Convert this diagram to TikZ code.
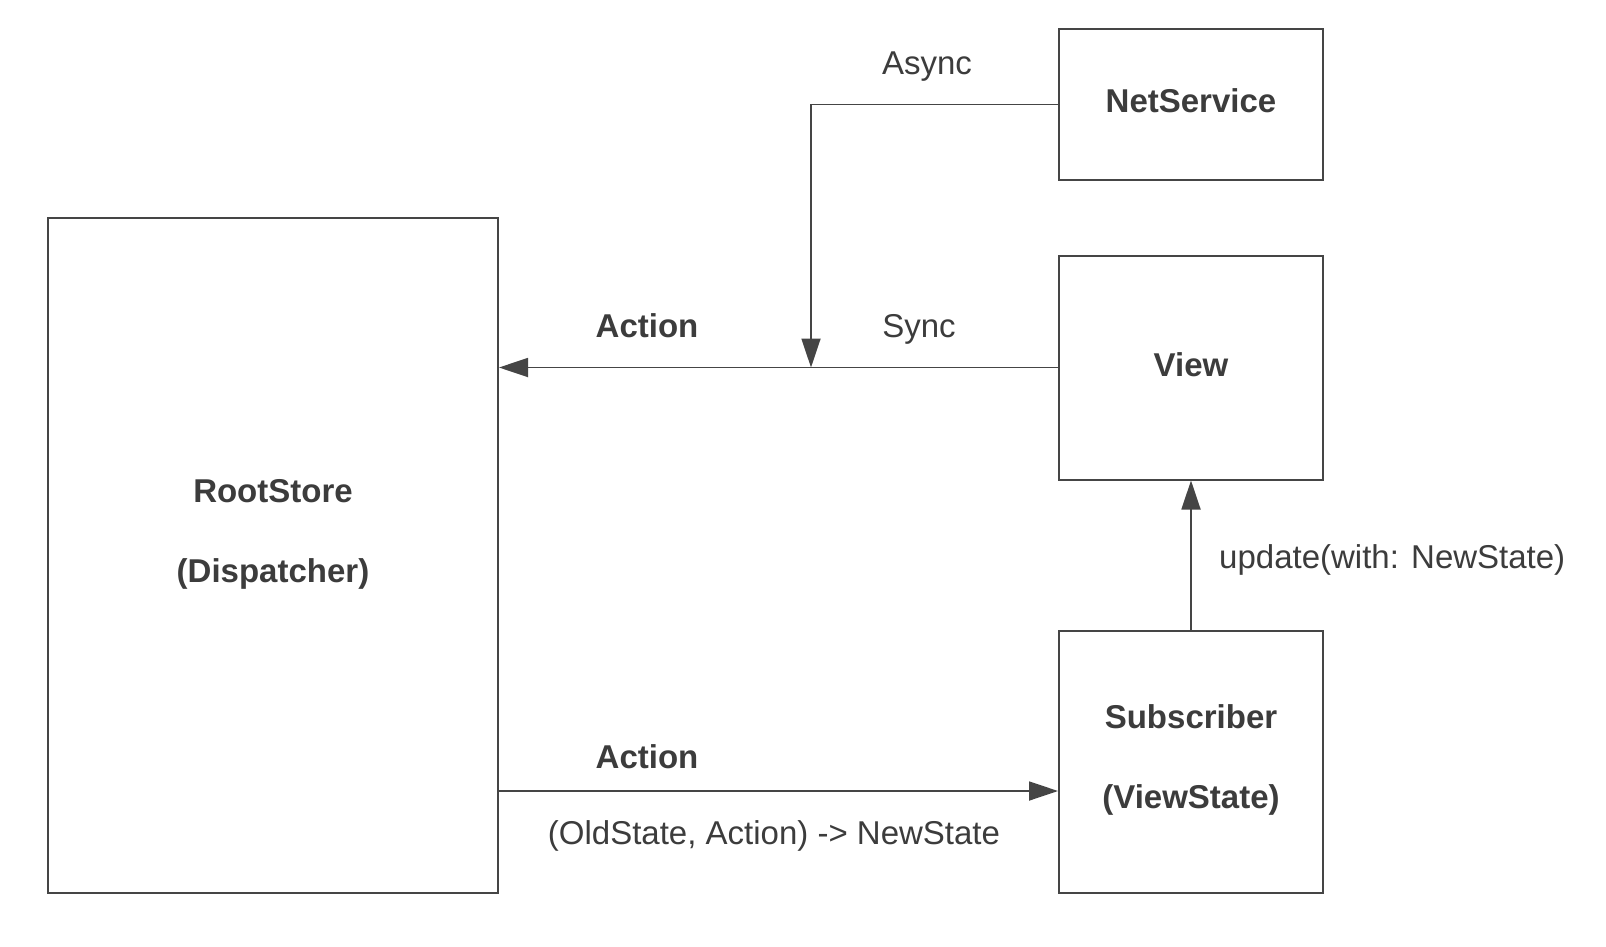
\documentclass[tikz,border=0pt]{standalone}
\usepackage{fontspec}
\setmainfont{Liberation Sans}
\usetikzlibrary{arrows.meta}
\definecolor{ink}{HTML}{454545}
\definecolor{txt}{HTML}{3C3C3C}
\begin{document}
\begin{tikzpicture}[x=1pt,y=-1pt,
  box/.style={draw=ink, line width=2pt, inner sep=0pt, align=center, text=txt,
              font=\fontsize{33}{80}\selectfont\bfseries},
  conn/.style={draw=ink, line width=1.8pt, -{Triangle[length=29pt,width=19pt]}},
  lbl/.style={inner sep=0pt, text=txt, font=\fontsize{33}{40}\selectfont},
  blbl/.style={lbl, font=\fontsize{33}{40}\selectfont\bfseries}]
\useasboundingbox (0,0) rectangle (1606,946);
\fill[white] (0,0) rectangle (1606,946);

\node[box, minimum width=450pt, minimum height=675pt] (root) at (273,555.5) {};
\node[box, draw=none, align=center] (roottext) at (273,534) {RootStore\\(Dispatcher)};
\node[box, minimum width=264pt, minimum height=151pt, text depth=8pt] (net) at (1191,104.5) {NetService};
\node[box, minimum width=264pt, minimum height=224pt, text depth=6pt] (view) at (1191,367.5) {View};
\node[box, minimum width=264pt, minimum height=262pt, text depth=11pt] (sub) at (1191,762) {Subscriber\\(ViewState)};

\coordinate (junc) at (811,367.5);
\coordinate (bot) at (0,791);

\draw[conn] (net.west) -| (junc);
\draw[conn] (view.west) -- (root.east |- view.west);
\draw[conn] (root.east |- bot) -- (sub.west |- bot);
\draw[conn] (sub.north) -- (view.south);

\node[lbl] (async) at (927,66.5) {Async};
\node[lbl] (sync) at (919,329) {Sync};
\node[blbl] (act1) at (647,326) {Action};
\node[blbl] (act2) at (647,757) {Action};
\node[lbl] (reduce) at (774,836) {(OldState, Action) -> NewState};
\node[lbl, anchor=west] (upd) at (1219,560) {update(with: NewState)};
\end{tikzpicture}
\end{document}
